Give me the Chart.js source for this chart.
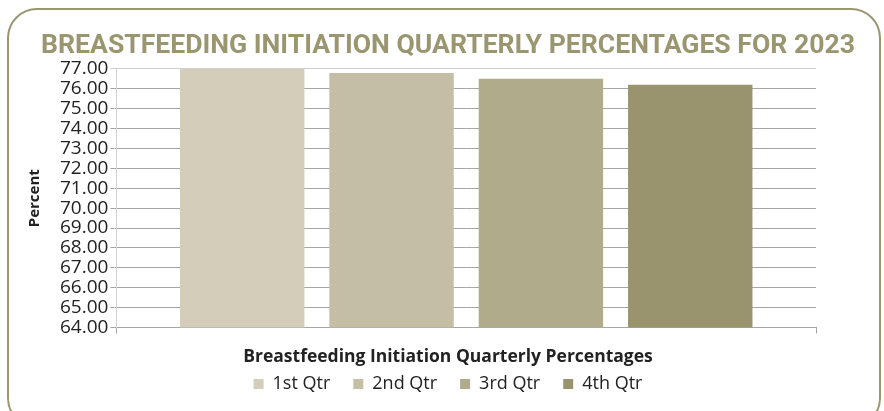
<!DOCTYPE html>
<html>
<head>
<meta charset="utf-8">
<script src="https://cdn.jsdelivr.net/npm/chart.js@4/dist/chart.umd.min.js"></script>
<style>
  html, body { margin: 0; padding: 0; background: #fff; }
  #wrap { position: relative; width: 884px; height: 411px; overflow: hidden; }
  #frame {
    position: absolute; left: 7px; top: 8px; width: 874px; height: 420px;
    border: 2.5px solid #9a9670; border-radius: 30px; box-sizing: border-box;
  }
  canvas { position: absolute; left: 0; top: 0; }
</style>
</head>
<body>
<div id="wrap">
  <div id="frame"></div>
  <canvas id="chart" width="884" height="411"></canvas>
</div>
<script>
const categories = [""];
const quarters = ["1st Qtr", "2nd Qtr", "3rd Qtr", "4th Qtr"];
const percentages = [77.0, 76.8, 76.5, 76.2];
const barColors = ["#d3cdb9", "#c3bea4", "#b0ab8b", "#99946e"];
const yMin = 64;
const yMax = 77;

const datasets = quarters.map((q, i) => ({
  label: q,
  data: [percentages[i]],
  backgroundColor: barColors[i],
  borderWidth: 0,
  categoryPercentage: 0.854,
  barPercentage: 0.833,
}));

new Chart(document.getElementById("chart"), {
  type: "bar",
  data: { labels: categories, datasets },
  options: {
    responsive: false,
    animation: false,
    layout: { padding: { left: 12, right: 0, top: 30, bottom: 8 } },
    plugins: {
      title: {
        display: true,
        text: "BREASTFEEDING INITIATION QUARTERLY PERCENTAGES FOR 2023",
        color: "#9a9670",
        font: { family: "Roboto", size: 26.6, weight: "bold" },
        padding: { top: 0, bottom: 7 },
      },
      // x axis title, drawn as a bottom subtitle so it centres like the legend
      subtitle: {
        display: true,
        position: "bottom",
        text: "Breastfeeding Initiation Quarterly Percentages",
        color: "#222",
        font: { family: "Open Sans", size: 17.5, weight: "bold" },
        padding: { top: 13.5, bottom: -16 },
      },
      legend: {
        position: "bottom",
        weight: 1600,
        labels: {
          boxWidth: 10,
          boxHeight: 10,
          color: "#222",
          font: { family: "Open Sans", size: 18 },
          padding: 23,
        },
      },
      tooltip: { enabled: false },
    },
    scales: {
      x: {
        ticks: { display: false },
        grid: {
          drawOnChartArea: false,
          drawTicks: true,
          tickLength: 6,
          color: "#a6a6a6",
        },
        border: { color: "#a6a6a6" },
      },
      y: {
        min: yMin,
        max: yMax,
        ticks: {
          stepSize: 1,
          autoSkip: false,
          color: "#222",
          font: { family: "Open Sans", size: 19 },
          padding: 2,
          callback: (v) => v.toFixed(2),
        },
        grid: {
          color: (ctx) => (ctx.tick && ctx.tick.value === yMax ? "#d0d0d0" : "#a6a6a6"),
          tickLength: 6,
        },
        border: { color: "#d0d0d0" },
        title: {
          display: true,
          text: "Percent",
          color: "#222",
          font: { family: "Open Sans", size: 15, weight: "bold" },
          padding: { top: 14, bottom: 14 },
        },
      },
      // empty right axis that only reserves the space right of the plot
      yRight: {
        position: "right",
        grid: { display: false },
        ticks: { display: false },
        border: { display: false },
        afterFit: (scale) => {
          scale.width = 68;
        },
      },
    },
  },
});
</script>
</body>
</html>
